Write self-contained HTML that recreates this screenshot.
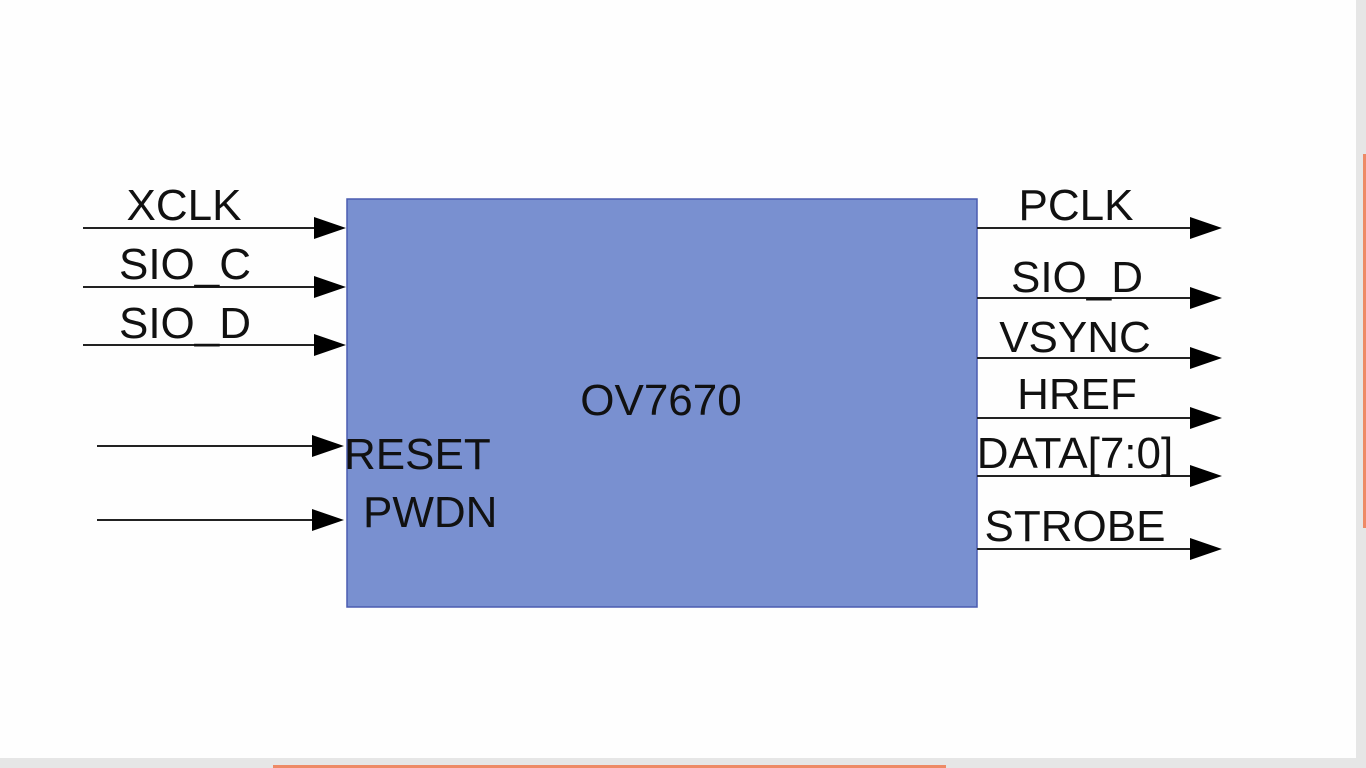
<!DOCTYPE html>
<html><head><style>
html,body{margin:0;padding:0;background:#fefefe;}
svg{display:block}
text{font-family:"Liberation Sans",Arial,sans-serif;font-size:44px;fill:#111;}
</style></head><body>
<svg width="1366" height="768" viewBox="0 0 1366 768">
<rect x="0" y="0" width="1366" height="768" fill="#fefefe"/>
<rect x="1356" y="0" width="10" height="768" fill="#e6e6e6"/>
<rect x="0" y="758" width="1366" height="10" fill="#e6e6e6"/>
<rect x="1363" y="154" width="3" height="374" fill="#ee8a66"/>
<rect x="273" y="765" width="673" height="3" fill="#ee8a66"/>
<rect x="347" y="199" width="630" height="408" fill="#7990d0" stroke="#4a5cb0" stroke-width="1.5"/>
<g stroke="#222" stroke-width="2">
<line x1="83" y1="228" x2="316" y2="228"/>
<line x1="83" y1="287" x2="316" y2="287"/>
<line x1="83" y1="345" x2="316" y2="345"/>
<line x1="97" y1="446" x2="314" y2="446"/>
<line x1="97" y1="520" x2="314" y2="520"/>
<line x1="977" y1="228" x2="1192" y2="228"/>
<line x1="977" y1="298" x2="1192" y2="298"/>
<line x1="977" y1="358" x2="1192" y2="358"/>
<line x1="977" y1="418" x2="1192" y2="418"/>
<line x1="977" y1="476" x2="1192" y2="476"/>
<line x1="977" y1="549" x2="1192" y2="549"/>
</g>
<g fill="#000">
<polygon points="314,217 346,228 314,239"/>
<polygon points="314,276 346,287 314,298"/>
<polygon points="314,334 346,345 314,356"/>
<polygon points="312,435 344,446 312,457"/>
<polygon points="312,509 344,520 312,531"/>
<polygon points="1190,217 1222,228 1190,239"/>
<polygon points="1190,287 1222,298 1190,309"/>
<polygon points="1190,347 1222,358 1190,369"/>
<polygon points="1190,407 1222,418 1190,429"/>
<polygon points="1190,465 1222,476 1190,487"/>
<polygon points="1190,538 1222,549 1190,560"/>
</g>
<g text-anchor="middle">
<text x="184" y="220">XCLK</text>
<text x="185" y="279">SIO_C</text>
<text x="185" y="338">SIO_D</text>
<text x="661" y="415">OV7670</text>
<text x="1076" y="220">PCLK</text>
<text x="1077" y="292">SIO_D</text>
<text x="1075" y="352">VSYNC</text>
<text x="1077" y="409">HREF</text>
<text x="1075" y="468">DATA[7:0]</text>
<text x="1075" y="541">STROBE</text>
</g>
<text x="344" y="469">RESET</text>
<text x="363" y="527">PWDN</text>
</svg>
</body></html>
